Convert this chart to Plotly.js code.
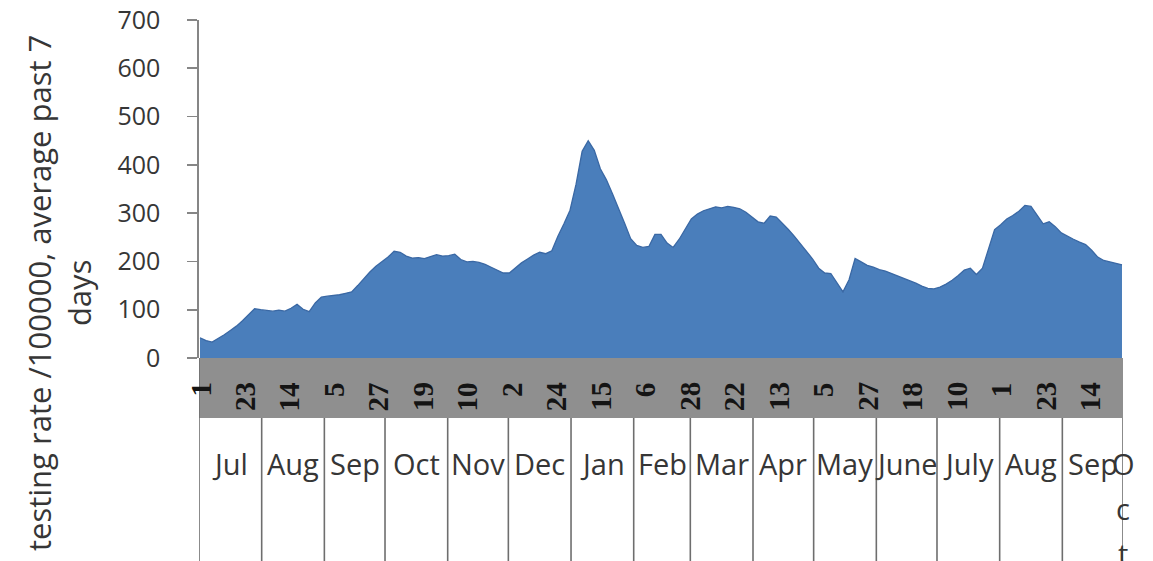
<!DOCTYPE html>
<html><head><meta charset="utf-8">
<script src="https://cdn.plot.ly/plotly-3.0.1.min.js"></script>
<style>html,body{margin:0;padding:0;background:#fff}#chart{width:1153px;height:561px}</style>
</head><body><div id="chart"></div>
<script>
// Testing rate per 100000, 7-day average, sampled every 3 days from 1 Jul 2020
const startDate = '2020-07-01';
const stepDays = 3;
const testingRate = [
  42, 36, 33, 40, 48, 57, 66, 77, 89, 102,
  100, 98, 97, 99, 97, 103, 111, 101, 96, 114,
  126, 128, 129, 131, 134, 137, 150, 165, 178, 190,
  200, 209, 221, 219, 211, 207, 208, 206, 210, 214,
  211, 212, 215, 204, 199, 200, 198, 194, 188, 182,
  176, 176, 187, 197, 205, 213, 219, 216, 222, 252,
  278, 306, 360, 428, 450, 430, 392, 369, 340, 311,
  279, 247, 233, 229, 231, 256, 256, 238, 229, 246,
  268, 288, 298, 305, 309, 313, 311, 314, 312, 309,
  302, 292, 282, 279, 294, 292, 280, 266, 252, 236,
  221, 205, 186, 176, 175, 156, 137, 162, 206, 199,
  192, 188, 183, 180, 175, 171, 166, 161, 155, 149,
  144, 143, 147, 153, 161, 171, 182, 186, 173, 186,
  226, 266, 276, 288, 295, 304, 316, 314, 296, 278,
  282, 272, 259, 252, 246, 240, 235, 223, 209, 202,
  199, 196, 193
];
const tickDates = ['2020-07-01','2020-07-23','2020-08-14','2020-09-05','2020-09-27','2020-10-19','2020-11-10',
  '2020-12-02','2020-12-24','2021-01-15','2021-02-06','2021-02-28','2021-03-22','2021-04-13','2021-05-05',
  '2021-05-27','2021-06-18','2021-07-10','2021-08-01','2021-08-23','2021-09-14'];
const tickLabels = ['1','23','14','5','27','19','10','2','24','15','6','28','22','13','5','27','18','10','1','23','14'];
const monthLabels = ['Jul','Aug','Sep','Oct','Nov','Dec','Jan','Feb','Mar','Apr','May','June','July','Aug','Sep','Oct'];
const monthStarts = ['2020-07-01','2020-08-01','2020-09-01','2020-10-01','2020-11-01','2020-12-01','2021-01-01',
  '2021-02-01','2021-03-01','2021-04-01','2021-05-01','2021-06-01','2021-07-01','2021-08-01','2021-09-01','2021-10-01'];
const yTitle = 'testing rate /100000, average past 7<br>days';

// ---- layout geometry (pixels) ----
const W = 1153, H = 561;
const plotL = 199, plotR = 1123, plotT = 20, plotB = 358;
const bandB = 418, tickTop = 380, monthY = 463, letterGap = 45;
const pY = py => (plotB - py) / (plotB - plotT);
const pX = px => (px - plotL) / (plotR - plotL);

function isoUTC(ms){ return new Date(ms).toISOString().slice(0,19).replace('T',' '); }
function noon(d){ return d + ' 12:00:00'; }
const msOf = d => Date.parse(d + 'T00:00:00Z');

const xDates = testingRate.map((_, i) => isoUTC(msOf(startDate) + (i*stepDays*86400000) + 43200000));

const trace = {
  x: xDates, y: testingRate, type: 'scatter', mode: 'lines',
  fill: 'tozeroy', fillcolor: '#4a7ebb',
  line: {color: '#3a68a4', width: 1.3, shape: 'linear'},
  hoverinfo: 'skip', showlegend: false
};

const shapes = [];
shapes.push({type:'rect', xref:'paper', yref:'paper', x0:0, x1:1, y0:pY(bandB), y1:0,
  fillcolor:'#8f8f8f', line:{width:0}, layer:'below'});
monthStarts.forEach((d, i) => {
  shapes.push({type:'line', xref:'x', yref:'paper', x0:d+' 00:00:00', x1:d+' 00:00:00',
    y0: i === 0 ? 0 : pY(bandB), y1: pY(H), line:{color:'#6e6e6e', width:1.6}});
});

const annotations = [];
// day-of-month tick labels, rotated, in the grey band
tickDates.forEach((d, i) => {
  annotations.push({x: noon(d), xref:'x', y: pY(tickTop), yref:'paper', text: tickLabels[i],
    showarrow:false, textangle:-90, xanchor:'center', yanchor:'top',
    font:{family:'Liberation Serif', size:29, color:'#141414', weight:'bold'}});
});
monthLabels.forEach((m, i) => {
  if (i < monthLabels.length - 1) {
    const mid = (msOf(monthStarts[i]) + msOf(monthStarts[i+1])) / 2;
    annotations.push({x: isoUTC(mid), xref:'x', y: pY(monthY), yref:'paper', text: m, showarrow:false,
      xanchor:'center', yanchor:'middle', font:{family:'Open Sans', size:29, color:'#363636'}});
  } else {
    m.split('').forEach((ch, k) => {
      annotations.push({x: monthStarts[i]+' 00:00:00', xref:'x', y: pY(monthY + k*letterGap), yref:'paper',
        text: ch, showarrow:false, xanchor:'center', yanchor:'middle',
        font:{family:'Open Sans', size:29, color:'#363636'}});
    });
  }
});
annotations.push({x: pX(59), xref:'paper', y: pY(293), yref:'paper', text: yTitle, showarrow:false,
  textangle:-90, xanchor:'center', yanchor:'middle',
  font:{family:'Open Sans', size:31, color:'#363636'}});

const layout = {
  width: W, height: H,
  margin: {l: plotL, r: W - plotR, t: plotT, b: H - plotB, pad: 0},
  paper_bgcolor: '#ffffff', plot_bgcolor: '#ffffff',
  showlegend: false,
  xaxis: {
    type: 'date', range: ['2020-07-01 00:00:00', '2021-10-01 00:00:00'],
    tickmode: 'array', tickvals: tickDates.map(noon), ticktext: tickLabels,
    showticklabels: false, ticks: '', showgrid: false, zeroline: false, showline: false,
    fixedrange: true
  },
  yaxis: {
    range: [0, 700], tickmode: 'linear', tick0: 0, dtick: 100,
    showgrid: false, zeroline: false, showline: true, linecolor: '#868686', linewidth: 1.6,
    ticks: 'outside', ticklen: 10, tickwidth: 1.6, tickcolor: '#868686',
    ticklabelstandoff: 22,
    tickfont: {family: 'Open Sans', size: 25, color: '#363636'},
    fixedrange: true
  },
  shapes: shapes,
  annotations: annotations
};

Plotly.newPlot('chart', [trace], layout, {staticPlot: true, displayModeBar: false});
</script>
</body></html>
